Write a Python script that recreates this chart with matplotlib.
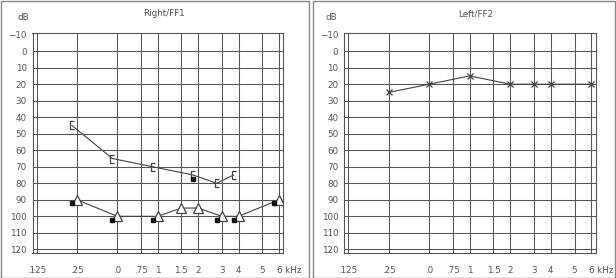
import numpy as np
import matplotlib
matplotlib.use("Agg")
import matplotlib.pyplot as plt
from matplotlib.path import Path
from matplotlib.patches import Rectangle
from matplotlib.transforms import offset_copy, ScaledTranslation

# ---------------- data ----------------
tick_freqs = [0.125, 0.25, 0.5, 0.75, 1, 1.5, 2, 3, 4, 6, 8]
tick_labels = [".125", ".25", ".0", ".75", "1", "1.5", "2", "3", "4", "5", "6 kHz"]
db_ticks = [-10, 0, 10, 20, 30, 40, 50, 60, 70, 80, 90, 100, 110, 120]
db_grid = [0, 10, 20, 30, 40, 50, 60, 70, 80, 90, 100, 110, 120]

# Right ear
right_bracket_f = [0.25, 0.5, 1, 2, 3, 4]
right_bracket_db = [45, 65, 70, 75, 80, 75]
right_tri_f = [0.25, 0.5, 1, 1.5, 2, 3, 4, 8]
right_tri_db = [90, 100, 100, 95, 95, 100, 100, 90]
right_sq_f = [0.25, 0.5, 1, 2, 3, 4, 8]
right_sq_db = [90, 100, 100, 75, 100, 100, 90]

# Left ear
left_x_f = [0.25, 0.5, 1, 2, 3, 4, 8]
left_x_db = [25, 20, 15, 20, 20, 20, 20]

# ---------------- figure ----------------
W, H = 616, 278
fig = plt.figure(figsize=(W / 100, H / 100), dpi=100)
plt.rcParams['font.family'] = ['DejaVu Sans']

grid_c = '#555555'
text_c = '#555555'
line_c = '#444444'
fs = 6.3

bracket = Path([(0.45, 1), (-0.45, 1), (-0.45, -1), (0.45, -1)],
               [Path.MOVETO, Path.LINETO, Path.LINETO, Path.LINETO])


def px(x0, y0, x1, y1):
    return [x0 / W, 1 - y1 / H, (x1 - x0) / W, (y1 - y0) / H]


def setup(ax):
    ax.set_xscale('log', base=2)
    ax.set_xlim(0.1166, 8.62)
    ax.set_ylim(122.4, -11)
    for f in tick_freqs:
        ax.axvline(f, color=grid_c, lw=0.75, zorder=1)
    for d in db_grid:
        ax.axhline(d, color=grid_c, lw=0.75, zorder=1)
    ax.set_xticks(tick_freqs)
    ax.set_xticklabels(tick_labels)
    ax.xaxis.set_minor_locator(matplotlib.ticker.NullLocator())
    ax.set_yticks(db_ticks)
    ax.set_yticklabels(["\u221210" if v == -10 else str(v) for v in db_ticks])
    ax.tick_params(axis='both', length=0, labelsize=fs, colors=text_c)
    ax.tick_params(axis='y', pad=4)
    ax.tick_params(axis='x', pad=9)
    last = ax.get_xticklabels()[-1]
    last.set_horizontalalignment('left')
    last.set_transform(last.get_transform() +
                       ScaledTranslation(-2.2 / 100, 0, fig.dpi_scale_trans))
    for s in ax.spines.values():
        s.set_color(grid_c)
        s.set_linewidth(0.8)


axL = fig.add_axes(px(32.5, 33, 283.3, 253.3))
axR = fig.add_axes(px(344, 33, 595.7, 253.3))
setup(axL)
setup(axR)

# right ear (left panel)
off_b = offset_copy(axL.transData, fig=fig, x=-5, y=0, units='dots')
axL.plot(right_bracket_f, right_bracket_db, color=line_c, lw=0.8,
         marker=bracket, ms=5.5, mfc='none', mec=line_c, mew=0.9,
         transform=off_b, zorder=3)
axL.plot(right_tri_f, right_tri_db, color=line_c, lw=0.8,
         marker='^', ms=7.5, mfc='white', mec=line_c, mew=0.9, zorder=4)
off_s = offset_copy(axL.transData, fig=fig, x=-5, y=-3.5, units='dots')
axL.plot(right_sq_f, right_sq_db, ls='none', marker='s', ms=2.2,
         color='#111111', transform=off_s, zorder=5)

# left ear (right panel)
axR.plot(left_x_f, left_x_db, color=line_c, lw=0.8, marker='x', ms=5,
         mec=line_c, mew=0.9, zorder=3)

# panel frames
fig.patches.append(Rectangle((1 / W, 0), 308 / W, 1 - 1 / H, transform=fig.transFigure,
                             fill=False, ec='#888888', lw=1))
fig.patches.append(Rectangle((313 / W, 0), 302 / W, 1 - 1 / H, transform=fig.transFigure,
                             fill=False, ec='#888888', lw=1))

# titles
fig.text(164 / W, 1 - 14 / H, "Right/FF1", ha='center', va='center', fontsize=fs, color=text_c)
fig.text(476 / W, 1 - 14 / H, "Left/FF2", ha='center', va='center', fontsize=fs, color=text_c)
fig.text(23 / W, 1 - 17 / H, "dB", ha='center', va='center', fontsize=fs, color=text_c)
fig.text(331 / W, 1 - 17 / H, "dB", ha='center', va='center', fontsize=fs, color=text_c)

fig.savefig("out.png", dpi=100)
